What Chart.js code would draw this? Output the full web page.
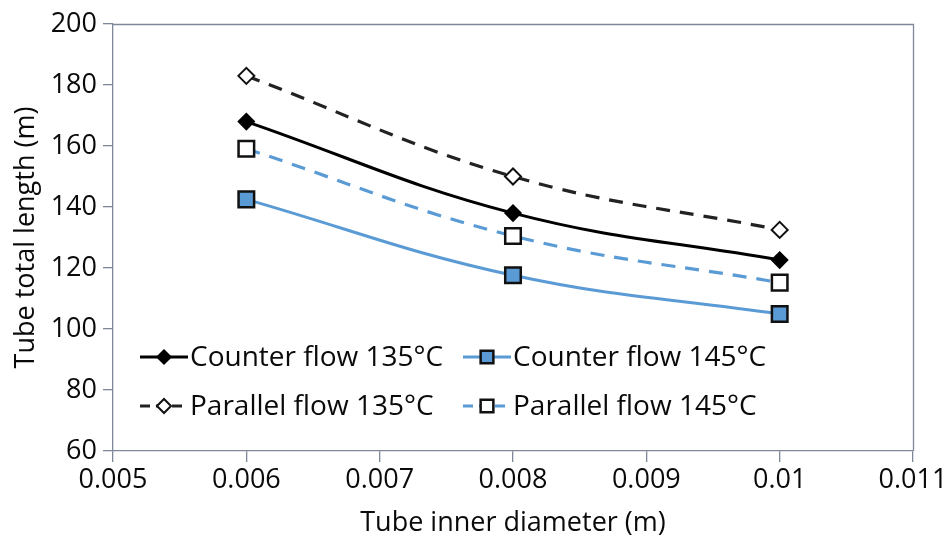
<!DOCTYPE html>
<html>
<head>
<meta charset="utf-8">
<script src="https://cdn.jsdelivr.net/npm/chart.js@4.4.1/dist/chart.umd.min.js"></script>
<style>
  html, body { margin: 0; padding: 0; background: #ffffff; }
  #wrap { width: 952px; height: 541px; }
</style>
</head>
<body>
<div id="wrap"><canvas id="c" width="952" height="541"></canvas></div>
<script>
// ---- data ----
const diameters = [0.006, 0.008, 0.01];
const counter135 = [168, 138, 122.6];
const counter145 = [142.5, 117.6, 104.9];
const parallel135 = [183, 150, 132.5];
const parallel145 = [159.1, 130.5, 115.2];
const seriesLabels = ['Counter flow 135°C', 'Counter flow 145°C', 'Parallel flow 135°C', 'Parallel flow 145°C'];
const xTickLabels = ['0.005', '0.006', '0.007', '0.008', '0.009', '0.01', '0.011'];
const yTickLabels = ['60', '80', '100', '120', '140', '160', '180', '200'];
const xTitle = 'Tube inner diameter (m)';
const yTitle = 'Tube total length (m)';

const FONT = "'Open Sans', 'Noto Sans', sans-serif";
const AXIS = '#7f8899';
const BLUE = '#5b9bd5';
const TEXT = '#0a0a0a';

function pts(vals) { return diameters.map((d, i) => ({ x: d, y: vals[i] })); }

const boxPlugin = {
  id: 'box',
  afterDraw(chart) {
    const { ctx, chartArea: a } = chart;
    ctx.save();
    ctx.strokeStyle = AXIS;
    ctx.lineWidth = 1.3;
    ctx.beginPath();
    ctx.moveTo(a.left, a.top + 0.5);
    ctx.lineTo(a.right + 0.5, a.top + 0.5);
    ctx.lineTo(a.right + 0.5, a.bottom);
    ctx.stroke();
    ctx.restore();
  }
};

const legendPlugin = {
  id: 'inlegend',
  afterDatasetsDraw(chart) {
    const { ctx } = chart;
    const slots = [
      { x: 140, y: 357 }, { x: 463, y: 357 },
      { x: 140, y: 406 }, { x: 463, y: 406 }
    ];
    ctx.save();
    chart.data.datasets.forEach((ds, i) => {
      const s = slots[i];
      ctx.beginPath();
      ctx.strokeStyle = ds.borderColor;
      ctx.lineWidth = ds.borderWidth;
      ctx.setLineDash(ds.borderDash ? [10, 6] : []);
      ctx.moveTo(s.x, s.y);
      ctx.lineTo(s.x + 48, s.y);
      ctx.stroke();
      ctx.setLineDash([]);
      ctx.fillStyle = ds.pointBackgroundColor;
      ctx.strokeStyle = ds.pointBorderColor;
      ctx.lineWidth = ds.pointBorderWidth;
      Chart.helpers.drawPoint(ctx, {
        pointStyle: ds.pointStyle,
        radius: ds.pointStyle === 'rect' ? 9 : 7,
        rotation: 0,
        borderWidth: ds.pointBorderWidth
      }, s.x + 24, s.y);
      ctx.fillStyle = TEXT;
      ctx.font = "28px " + FONT;
      ctx.textBaseline = 'middle';
      ctx.textAlign = 'left';
      ctx.fillText(ds.label, s.x + 50, s.y + 1);
    });
    ctx.restore();
  }
};

new Chart(document.getElementById('c'), {
  type: 'line',
  data: {
    datasets: [
      {
        label: seriesLabels[0], data: pts(counter135),
        borderColor: '#000', borderWidth: 3, tension: 0.4,
        pointStyle: 'rectRot', pointRadius: 8, pointBackgroundColor: '#000',
        pointBorderColor: '#000', pointBorderWidth: 1.5
      },
      {
        label: seriesLabels[1], data: pts(counter145),
        borderColor: BLUE, borderWidth: 3, tension: 0.4,
        pointStyle: 'rect', pointRadius: 11, pointBackgroundColor: BLUE,
        pointBorderColor: '#111', pointBorderWidth: 2.5
      },
      {
        label: seriesLabels[2], data: pts(parallel135),
        borderColor: '#222', borderWidth: 3.2, borderDash: [14, 10], tension: 0.4,
        pointStyle: 'rectRot', pointRadius: 8, pointBackgroundColor: '#fff',
        pointBorderColor: '#111', pointBorderWidth: 2
      },
      {
        label: seriesLabels[3], data: pts(parallel145),
        borderColor: BLUE, borderWidth: 3.2, borderDash: [14, 10], tension: 0.4,
        pointStyle: 'rect', pointRadius: 11, pointBackgroundColor: '#fff',
        pointBorderColor: '#111', pointBorderWidth: 2.5
      }
    ]
  },
  options: {
    responsive: false,
    animation: false,
    layout: { padding: { top: 24, right: 39, left: 0, bottom: 0 } },
    plugins: { legend: { display: false }, tooltip: { enabled: false } },
    scales: {
      x: {
        type: 'linear', min: 0.005, max: 0.011,
        afterBuildTicks(scale) {
          scale.ticks = xTickLabels.map(t => ({ value: parseFloat(t) }));
        },
        afterFit(scale) { scale.height = 90; },
        grid: { drawOnChartArea: false, drawTicks: true, tickLength: 11, color: AXIS, lineWidth: 1.3 },
        border: { color: AXIS, width: 1.3 },
        ticks: {
          color: TEXT, font: { family: FONT, size: 27 }, padding: 2, maxRotation: 0,
          callback: (v, i) => xTickLabels[i]
        },
        title: { display: true, text: xTitle, color: TEXT, font: { family: FONT, size: 27 }, padding: { top: 0, bottom: 1 } }
      },
      y: {
        type: 'linear', min: 60, max: 200,
        afterBuildTicks(scale) {
          scale.ticks = yTickLabels.map(t => ({ value: parseFloat(t) }));
        },
        afterFit(scale) { scale.width = 113; },
        grid: { drawOnChartArea: false, drawTicks: true, tickLength: 10, color: AXIS, lineWidth: 1.3 },
        border: { color: AXIS, width: 1.3 },
        ticks: {
          color: TEXT, font: { family: FONT, size: 27 }, padding: 6,
          callback: (v, i) => yTickLabels[i]
        },
        title: { display: true, text: yTitle, color: TEXT, font: { family: FONT, size: 27 }, padding: { top: 10, bottom: 0 } }
      }
    }
  },
  plugins: [boxPlugin, legendPlugin]
});
</script>
</body>
</html>
